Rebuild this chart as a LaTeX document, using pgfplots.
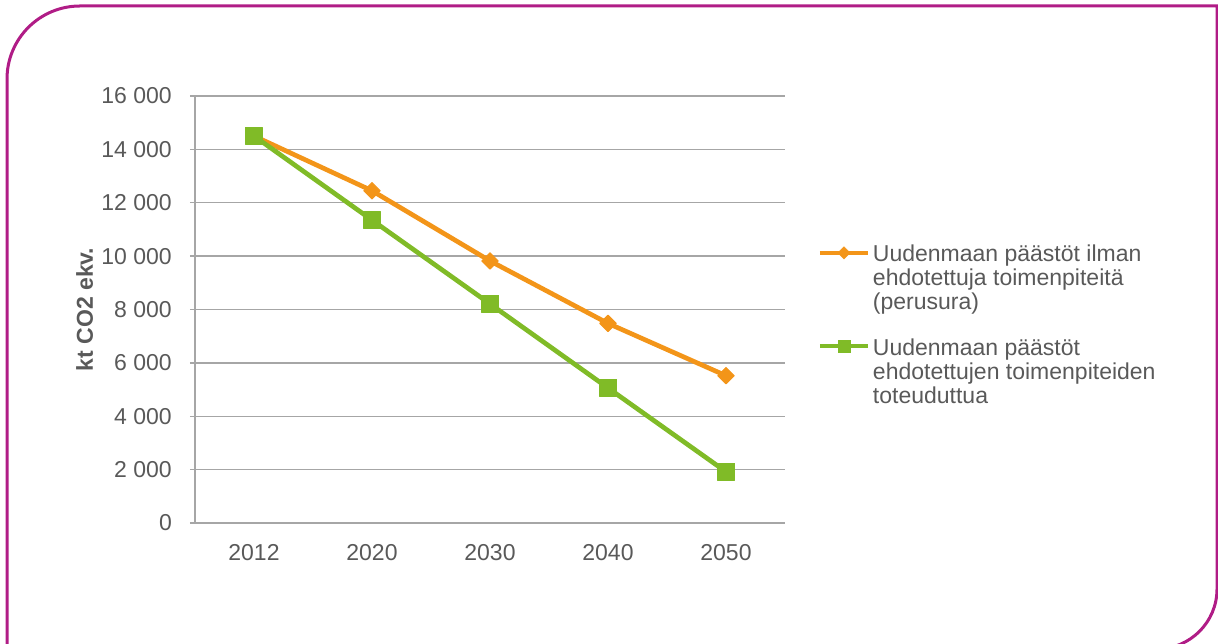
\documentclass[border=0pt]{standalone}
\usepackage{fontspec}
\setmainfont{Liberation Sans}
\usepackage{pgfplots}
\pgfplotsset{compat=1.18}

\definecolor{framecol}{HTML}{B01C86}
\definecolor{orangeline}{HTML}{F39519}
\definecolor{greenline}{HTML}{80BB27}
\definecolor{gridgray}{HTML}{A6A6A6}
\definecolor{textgray}{HTML}{595959}

\newcommand{\chartfont}{\fontsize{23}{24}\selectfont}

\begin{document}
\begin{tikzpicture}
\useasboundingbox (0pt,0pt) rectangle (1218pt,644pt);
% rounded frame around the chart
\begin{scope}
\clip (0pt,0pt) rectangle (1218pt,644pt);
\draw[framecol, line width=3pt]
  (7pt,-5pt) -- (7pt,565pt) arc[start angle=180, end angle=90, radius=73pt]
  -- (1217pt,638pt) -- (1217pt,55pt) arc[start angle=0, end angle=-90, radius=60pt]
  -- cycle;
\end{scope}

\begin{axis}[
  at={(195pt,121pt)}, anchor=south west,
  scale only axis, width=590pt, height=427pt,
  xmin=-0.5, xmax=4.5, ymin=0, ymax=16000,
  axis lines*=left,
  axis line style={gridgray, line width=1.3pt},
  xtick={0,1,2,3,4},
  xticklabels={2012,2020,2030,2040,2050},
  ytick={0,2000,...,16000},
  scaled y ticks=false,
  ymajorgrids,
  grid style={gridgray, line width=1.3pt},
  tick align=outside,
  major tick length=5pt,
  xtick style={draw=none},
  ytick style={gridgray, line width=1.3pt},
  tick label style={font=\chartfont, text=textgray},
  yticklabel style={inner sep=0pt, xshift=-18pt,
    /pgf/number format/1000 sep={\ }, /pgf/number format/assume math mode=true},
  xticklabel style={inner sep=0pt, yshift=-16pt},
  ylabel={kt CO2 ekv.},
  every axis y label/.style={at={(axis description cs:-0.187,0.5)}, rotate=90, anchor=center,
    font=\chartfont\bfseries, text=textgray},
  legend style={at={(axis description cs:1.0559,0.6553)}, anchor=north west,
    draw=none, fill=none, inner sep=0pt, outer sep=0pt,
    row sep=71pt, column sep=1pt,
    cells={anchor=base west, inner sep=0pt},
    font=\chartfont, text=textgray},
  legend image code/.code={%
    \draw[mark repeat=2, mark phase=2, #1]
      plot coordinates {(0pt,9pt) (24pt,9pt) (48pt,9pt)};},
]
\addlegendimage{orangeline, line width=4pt, mark=square*, mark size=4.3pt,
  mark options={rotate=45, line width=0.5pt}}
\addlegendentry{\parbox[t]{330pt}{\chartfont\raggedright Uudenmaan päästöt ilman\\ehdotettuja toimenpiteitä\\(perusura)}}
\addlegendimage{greenline, line width=4pt, mark=square*, mark size=6pt,
  mark options={line width=0.5pt}}
\addlegendentry{\parbox[t]{330pt}{\chartfont\raggedright Uudenmaan päästöt\\ehdotettujen toimenpiteiden\\toteuduttua}}

% baseline without the proposed measures
\addplot[forget plot, orangeline, line width=4.7pt, line join=round,
  mark=square*, mark size=5.8pt, mark options={rotate=45, line width=1pt}]
  coordinates {(0,14500) (1,12450) (2,9820) (3,7480) (4,5520)};
% with the proposed measures carried out
\addplot[forget plot, greenline, line width=4.7pt, line join=round,
  mark=square*, mark size=8.5pt, mark options={line width=1pt}]
  coordinates {(0,14500) (1,11350) (2,8210) (3,5060) (4,1920)};
\end{axis}
\end{tikzpicture}
\end{document}
